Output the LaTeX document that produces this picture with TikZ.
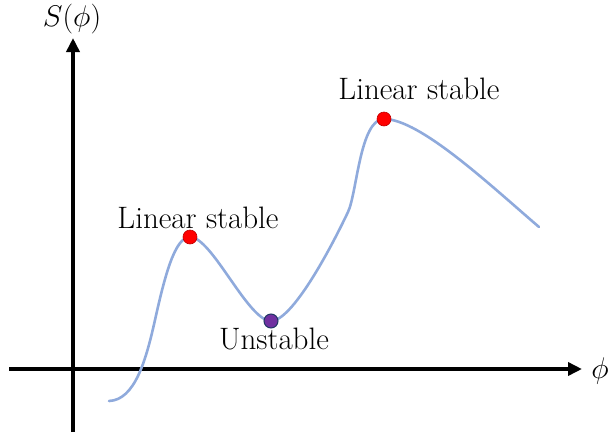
\documentclass[tikz,border=0pt]{standalone}
\usetikzlibrary{arrows.meta}
\definecolor{curveblue}{HTML}{8FAADC}
\definecolor{dotred}{HTML}{FF0000}
\definecolor{dotredborder}{HTML}{C00000}
\definecolor{dotpurple}{HTML}{7030A0}
\definecolor{dotborder}{HTML}{203864}
\begin{document}
\begin{tikzpicture}[x=1pt,y=-1pt,
  axis/.style={line width=3.6pt,-{Triangle[length=14pt,width=13pt]}},
  lbl/.style={font=\fontsize{31}{33}\selectfont,inner sep=0pt},
  mlbl/.style={font=\Huge,scale=1.2,inner sep=0pt},
  reddot/.style={circle,fill=dotred,draw=dotredborder,line width=0.6pt,minimum size=14pt,inner sep=0pt},
  purpledot/.style={circle,fill=dotpurple,draw=dotborder,line width=1pt,minimum size=14pt,inner sep=0pt}]
\useasboundingbox (0,0) rectangle (611,437);
% axes
\coordinate (xs) at (9,369);
\coordinate (xe) at (582,369);
\coordinate (ys) at (73,432);
\coordinate (ye) at (73,38);
\draw[axis] (xs) -- (xe);
\draw[axis] (ys) -- (ye);
\node[mlbl] (xl) at (600,371) {$\phi$};
\node[mlbl] (yl) at (72,19) {$S(\phi)$};
% curve
\coordinate (c0) at (109,401);
\coordinate (c1) at (155,320);
\coordinate (c2) at (190,237);
\coordinate (c3) at (271,321);
\coordinate (c4) at (348,212);
\coordinate (c5) at (384,119);
\coordinate (c6) at (539,227);
\draw[curveblue,line width=2.6pt,line cap=round]
  (c0) .. controls (135,400) and (146,360) .. (c1)
       .. controls (165,275) and (175,237) .. (c2)
       .. controls (212,237) and (248,321) .. (c3)
       .. controls (292,321) and (330,250) .. (c4)
       .. controls (357,193) and (360,119) .. (c5)
       .. controls (420,119) and (490,185) .. (c6);
% points
\node[reddot] (p1) at (c2) {};
\node[purpledot] (p2) at (c3) {};
\node[reddot] (p3) at (c5) {};
\node[lbl] (l1) at (198,218) {Linear stable};
\node[lbl] (l2) at (274,339) {Unstable};
\node[lbl] (l3) at (419,89) {Linear stable};
\end{tikzpicture}
\end{document}
